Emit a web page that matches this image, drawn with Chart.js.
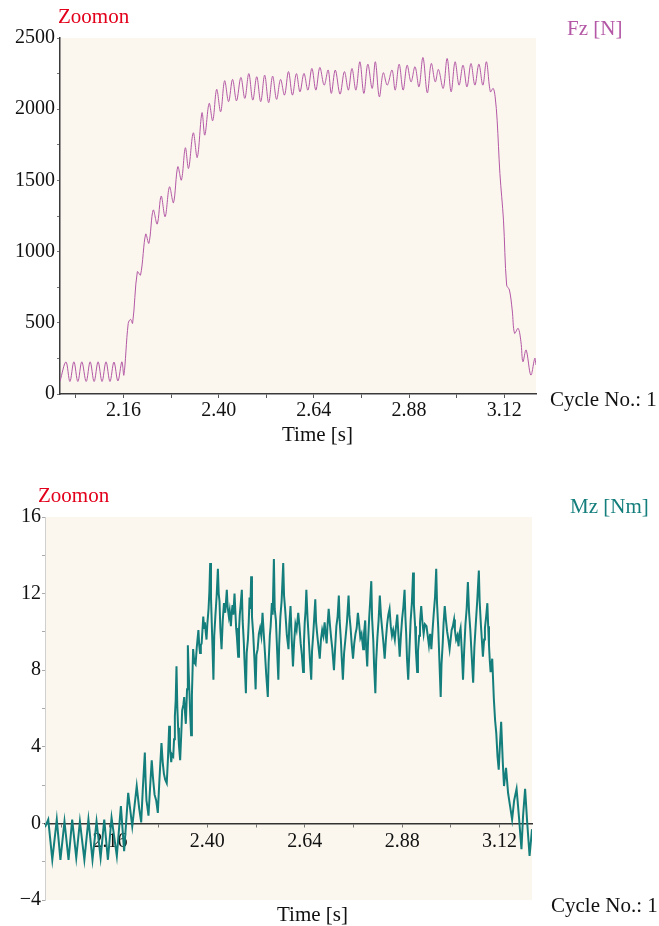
<!DOCTYPE html>
<html>
<head>
<meta charset="utf-8">
<script src="https://cdn.jsdelivr.net/npm/chart.js@4"></script>
<style>
  html, body { margin: 0; padding: 0; background: #ffffff; }
  #wrap { position: relative; width: 659px; height: 926px; overflow: hidden; }
  canvas { position: absolute; left: 0; }
  #c1 { top: 0; }
  #c2 { top: 460px; }
</style>
</head>
<body>
<div id="wrap">
  <canvas id="c1" width="659" height="460"></canvas>
  <canvas id="c2" width="659" height="466"></canvas>
</div>
<script>
// ---------- DATA ----------
const fzTime = [2.000,2.015,2.025,2.035,2.045,2.055,2.066,2.076,2.086,2.096,2.106,2.116,2.126,2.136,2.146,2.156,2.161,2.172,2.178,2.183,2.195,2.203,2.216,2.224,2.235,2.245,2.255,2.265,2.276,2.286,2.297,2.306,2.316,2.324,2.336,2.346,2.358,2.365,2.376,2.385,2.395,2.405,2.415,2.425,2.435,2.445,2.456,2.466,2.476,2.486,2.496,2.506,2.516,2.526,2.536,2.546,2.556,2.566,2.576,2.586,2.596,2.605,2.615,2.625,2.635,2.645,2.655,2.666,2.676,2.684,2.694,2.706,2.717,2.727,2.736,2.746,2.756,2.766,2.776,2.787,2.795,2.805,2.815,2.825,2.837,2.845,2.855,2.865,2.875,2.885,2.895,2.905,2.915,2.926,2.936,2.946,2.954,2.966,2.976,2.986,2.996,3.006,3.016,3.026,3.036,3.046,3.056,3.066,3.075,3.085,3.092,3.097,3.102,3.109,3.118,3.126,3.133,3.140,3.146,3.155,3.162,3.167,3.175,3.187,3.197,3.200];
const fzValue = [90,225,88,226,88,226,88,226,88,226,88,226,88,224,92,226,133,496,524,496,859,835,1123,1058,1292,1193,1390,1245,1455,1343,1596,1502,1729,1584,1834,1661,1975,1818,2041,1919,2139,1982,2200,2053,2209,2059,2223,2076,2250,2064,2228,2053,2239,2046,2232,2069,2209,2099,2264,2099,2250,2122,2251,2134,2286,2134,2293,2169,2275,2111,2275,2106,2264,2134,2286,2134,2333,2111,2316,2146,2333,2087,2256,2169,2275,2134,2316,2134,2309,2192,2298,2157,2363,2115,2321,2192,2279,2146,2356,2122,2333,2169,2309,2157,2321,2169,2316,2169,2333,2122,2146,2087,1923,1549,1221,765,730,590,426,461,367,227,309,133,251,204];

// Mz samples: [time s, moment Nm]
const mzSamples = [
[2.000,-0.2],[2.008,0.2],[2.018,-1.9],[2.029,0.2],[2.038,-1.9],[2.048,0.1],[2.058,-1.9],[2.067,0.2],[2.077,-1.8],[2.086,0.1],
[2.097,-1.9],[2.107,0.2],[2.117,-1.9],[2.127,0.1],[2.137,-1.8],[2.146,0.2],[2.155,-1.9],[2.164,0.3],[2.177,-1.7],[2.187,0.9],
[2.195,-1.45],[2.205,1.6],[2.215,-0.15],[2.226,1.95],[2.232,0.8],[2.237,0.05],[2.241,1.8],[2.246,3.7],[2.248,2.2],[2.250,1.2],
[2.252,0.9],[2.255,0.4],[2.259,1.9],[2.263,3.3],[2.266,2.4],[2.270,1.5],[2.274,1.2],[2.278,0.55],[2.282,2.3],[2.287,4.2],
[2.290,3.2],[2.293,2.6],[2.296,2.3],[2.300,2.1],[2.303,3.4],[2.306,5.1],[2.308,3.9],[2.311,3.2],[2.313,3.6],[2.316,3.5],
[2.318,4.4],[2.320,5.6],[2.322,6.4],[2.324,8.2],[2.326,6.1],[2.328,5.0],[2.330,4.1],[2.333,3.3],[2.336,4.8],[2.338,5.9],
[2.341,6.2],[2.343,6.6],[2.345,5.8],[2.347,5.2],[2.350,7.0],[2.352,9.3],[2.354,7.9],[2.356,6.8],[2.358,5.6],[2.360,4.6],
[2.362,6.7],[2.365,9.1],[2.368,8.4],[2.371,8.3],[2.374,9.2],[2.378,10.1],[2.380,9.3],[2.382,8.9],[2.384,9.3],[2.386,9.4],
[2.388,10.1],[2.390,10.8],[2.392,10.2],[2.394,10.5],[2.396,10.0],[2.398,9.6],[2.400,10.4],[2.403,11.2],[2.405,12.1],[2.407,13.6],
[2.409,11.8],[2.411,10.4],[2.413,9.0],[2.415,7.5],[2.417,9.8],[2.420,10.9],[2.423,11.9],[2.426,13.3],[2.428,12.0],[2.430,11.6],
[2.432,10.2],[2.435,9.1],[2.438,10.6],[2.441,11.5],[2.444,11.0],[2.448,12.2],[2.450,11.3],[2.453,10.8],[2.455,11.1],[2.458,10.3],
[2.460,11.0],[2.462,11.4],[2.464,10.9],[2.467,12.0],[2.469,11.1],[2.471,10.2],[2.473,9.7],[2.476,8.7],[2.478,10.1],[2.480,10.9],
[2.482,11.4],[2.485,12.2],[2.487,10.6],[2.490,9.4],[2.492,8.3],[2.495,6.8],[2.497,8.9],[2.500,9.6],[2.502,10.5],[2.504,11.8],
[2.506,11.2],[2.508,12.9],[2.510,10.8],[2.513,9.9],[2.516,8.6],[2.519,7.0],[2.521,8.8],[2.524,9.1],[2.527,9.9],[2.530,10.2],
[2.533,9.8],[2.536,11.0],[2.539,9.9],[2.542,8.9],[2.545,7.8],[2.549,6.6],[2.551,8.4],[2.554,9.8],[2.556,10.3],[2.559,11.5],
[2.561,10.9],[2.564,13.8],[2.566,11.2],[2.569,10.6],[2.572,9.0],[2.575,7.5],[2.577,9.3],[2.580,10.8],[2.583,11.6],[2.587,13.6],
[2.589,11.9],[2.592,11.1],[2.596,9.8],[2.600,9.1],[2.602,10.4],[2.605,11.35],[2.608,9.6],[2.611,8.2],[2.614,9.5],[2.617,10.4],
[2.620,10.1],[2.624,11.0],[2.627,10.3],[2.630,9.4],[2.633,8.8],[2.636,7.9],[2.638,9.4],[2.640,10.5],[2.642,11.1],[2.644,12.2],
[2.647,10.7],[2.650,9.6],[2.653,8.5],[2.656,7.5],[2.658,9.0],[2.661,9.9],[2.663,10.6],[2.666,11.7],[2.668,10.5],[2.671,9.8],
[2.674,9.2],[2.677,8.6],[2.680,9.6],[2.683,10.1],[2.686,9.8],[2.689,10.5],[2.691,10.0],[2.694,9.4],[2.696,10.3],[2.699,11.2],
[2.702,10.4],[2.705,9.7],[2.708,9.1],[2.712,8.0],[2.715,9.2],[2.718,10.3],[2.721,10.8],[2.724,11.9],[2.726,10.6],[2.729,9.6],
[2.731,8.7],[2.734,7.5],[2.737,8.9],[2.741,9.8],[2.744,10.5],[2.748,11.9],[2.750,10.9],[2.753,10.2],[2.756,9.3],[2.759,8.6],
[2.762,9.4],[2.765,9.9],[2.768,10.2],[2.771,11.0],[2.774,10.4],[2.777,9.7],[2.780,9.9],[2.784,9.1],[2.786,9.9],[2.789,10.6],
[2.791,9.3],[2.794,8.2],[2.796,9.5],[2.799,10.8],[2.801,11.5],[2.804,12.65],[2.806,10.7],[2.809,9.5],[2.811,8.2],[2.814,6.8],
[2.816,8.5],[2.819,9.7],[2.822,10.6],[2.825,11.9],[2.828,10.8],[2.831,10.1],[2.834,9.4],[2.837,8.6],[2.840,9.6],[2.843,10.4],
[2.846,10.9],[2.849,11.2],[2.852,10.3],[2.855,9.8],[2.858,10.1],[2.862,9.6],[2.865,10.3],[2.868,10.9],[2.871,9.8],[2.874,8.7],
[2.877,9.8],[2.880,10.7],[2.883,11.3],[2.886,12.2],[2.888,10.8],[2.890,9.9],[2.892,8.6],[2.895,7.5],[2.898,9.1],[2.901,10.6],
[2.904,11.5],[2.907,13.1],[2.909,11.4],[2.912,10.3],[2.914,9.0],[2.917,7.9],[2.919,9.0],[2.922,9.8],[2.924,10.5],[2.927,11.35],
[2.930,10.5],[2.933,9.9],[2.936,10.4],[2.940,10.3],[2.943,9.8],[2.946,9.3],[2.949,9.9],[2.952,9.1],[2.955,10.1],[2.958,11.0],
[2.961,11.8],[2.964,13.3],[2.966,11.5],[2.969,10.2],[2.972,8.4],[2.975,6.6],[2.977,8.3],[2.980,9.4],[2.982,10.4],[2.985,11.35],
[2.988,10.6],[2.991,10.0],[2.994,9.6],[2.997,9.1],[3.000,9.7],[3.002,10.1],[3.005,10.3],[3.008,10.65],[3.010,10.1],[3.013,9.6],
[3.016,9.8],[3.019,9.25],[3.021,9.9],[3.024,10.2],[3.027,9.0],[3.030,7.5],[3.033,9.1],[3.036,10.4],[3.039,11.2],[3.042,12.6],
[3.045,11.0],[3.048,10.1],[3.051,8.9],[3.055,7.35],[3.058,9.2],[3.062,10.6],[3.065,11.6],[3.069,13.2],[3.071,11.6],[3.074,10.4],
[3.077,9.4],[3.079,8.7],[3.082,9.6],[3.084,10.2],[3.087,10.8],[3.090,11.5],[3.092,10.3],[3.094,9.3],[3.096,8.5],[3.098,7.9],
[3.100,8.3],[3.102,8.6],[3.106,6.5],[3.109,5.4],[3.112,4.7],[3.115,3.5],[3.118,2.8],[3.121,4.1],[3.124,5.3],[3.128,3.2],
[3.131,1.95],[3.136,2.9],[3.141,1.6],[3.146,0.9],[3.151,0.2],[3.156,1.2],[3.162,1.8],[3.168,0.3],[3.174,-1.35],[3.178,0.4],
[3.183,1.8],[3.188,0.1],[3.194,-1.7],[3.200,-0.3]
];

const xMajorTicks = [2.16, 2.40, 2.64, 2.88, 3.12];
const xMinorTicks = [2.04, 2.28, 2.52, 2.76, 3.00];
const fzMajorTicks = [0, 500, 1000, 1500, 2000, 2500];
const fzMinorTicks = [250, 750, 1250, 1750, 2250];
const mzMajorTicks = [-4, 0, 4, 8, 12, 16];
const mzMinorTicks = [-2, 2, 6, 10, 14];

const labels = {
  zoom: 'Zoomon',
  fz: 'Fz [N]',
  mz: 'Mz [Nm]',
  cycle: 'Cycle No.: 1',
  time: 'Time [s]'
};

// ---------- STYLE ----------
const FONT = '"Liberation Serif", "Times New Roman", serif';
const PLOT_BG = '#FBF7EE';
const FZ_COLOR = '#B458A6';
const MZ_COLOR = '#147E7C';
const RED = '#E3001B';

function pairs(xs, ys) { return xs.map((x, i) => ({ x: x, y: ys[i] })); }
function fmtNum(v) { return v < 0 ? '\u2212' + Math.abs(v) : String(v); }

function bgPlugin() {
  return {
    id: 'bg',
    beforeDraw(chart) {
      const { ctx, chartArea: a } = chart;
      ctx.save();
      ctx.fillStyle = '#ffffff';
      ctx.fillRect(0, 0, chart.width, chart.height);
      ctx.fillStyle = PLOT_BG;
      ctx.fillRect(a.left, a.top, a.right - a.left, a.bottom - a.top);
      ctx.restore();
    }
  };
}

function textPlugin(items) {
  return {
    id: 'texts',
    afterDraw(chart) {
      const ctx = chart.ctx;
      ctx.save();
      ctx.textBaseline = 'alphabetic';
      ctx.textAlign = 'left';
      items.forEach(t => {
        ctx.font = t.size + 'px ' + FONT;
        ctx.fillStyle = t.color;
        ctx.fillText(t.text, t.x, t.y);
      });
      ctx.restore();
    }
  };
}

// ---------- CHART 1 : Fz ----------
new Chart(document.getElementById('c1'), {
  type: 'line',
  data: {
    datasets: [{
      data: pairs(fzTime, fzValue),
      borderColor: FZ_COLOR,
      borderWidth: 1,
      pointRadius: 0,
      tension: 0.35,
      fill: false
    }]
  },
  options: {
    responsive: false,
    animation: false,
    devicePixelRatio: 1,
    layout: { padding: { top: 38, right: 123, left: 0, bottom: 16 } },
    plugins: { legend: { display: false }, tooltip: { enabled: false }, title: { display: false } },
    scales: {
      x: {
        type: 'linear', min: 2.0, max: 3.2,
        afterBuildTicks: s => { s.ticks = xMinorTicks.concat(xMajorTicks).sort((a, b) => a - b).map(v => ({ value: v })); },
        afterFit: s => { s.height = 50; },
        border: { color: '#3a3a3a', width: 1.5 },
        grid: { display: true, drawOnChartArea: false, tickLength: 4, color: '#555' },
        ticks: {
          autoSkip: false, maxRotation: 0, padding: 1, color: '#111',
          font: { family: FONT, size: 20 },
          callback: v => xMajorTicks.some(m => Math.abs(m - v) < 1e-6) ? v.toFixed(2) : ''
        }
      },
      y: {
        type: 'linear', min: 0, max: 2500,
        afterBuildTicks: s => { s.ticks = fzMinorTicks.concat(fzMajorTicks).sort((a, b) => a - b).map(v => ({ value: v })); },
        afterFit: s => { s.width = 60; },
        border: { color: '#3a3a3a', width: 1.5 },
        grid: { display: true, drawOnChartArea: false, tickLength: 3, color: '#777' },
        ticks: {
          autoSkip: false, padding: 2, color: '#111',
          font: { family: FONT, size: 20 },
          callback: v => fzMajorTicks.includes(v) ? fmtNum(v) : ''
        }
      }
    }
  },
  plugins: [bgPlugin(), textPlugin([
    { text: labels.zoom, x: 58, y: 23, size: 21, color: RED },
    { text: labels.fz, x: 567, y: 35, size: 21, color: FZ_COLOR },
    { text: labels.cycle, x: 550, y: 406, size: 21, color: '#111' },
    { text: labels.time, x: 282, y: 441, size: 21, color: '#111' }
  ])]
});

// ---------- CHART 2 : Mz ----------
new Chart(document.getElementById('c2'), {
  type: 'line',
  data: {
    datasets: [{
      data: mzSamples.map(p => ({ x: p[0], y: p[1] })),
      borderColor: MZ_COLOR,
      borderWidth: 2,
      pointRadius: 0,
      tension: 0,
      fill: false
    }]
  },
  options: {
    responsive: false,
    animation: false,
    devicePixelRatio: 1,
    layout: { padding: { top: 57, right: 127, left: 0, bottom: 26 } },
    plugins: { legend: { display: false }, tooltip: { enabled: false }, title: { display: false } },
    scales: {
      x: {
        type: 'linear', min: 2.0, max: 3.2,
        position: { y: 0 },
        afterBuildTicks: s => { s.ticks = xMinorTicks.concat(xMajorTicks).sort((a, b) => a - b).map(v => ({ value: v })); },
        border: { color: '#333', width: 1.5 },
        grid: { display: true, drawOnChartArea: false, tickLength: 3, color: '#777' },
        ticks: {
          autoSkip: false, maxRotation: 0, padding: 3, color: '#111',
          font: { family: FONT, size: 20 },
          callback: v => xMajorTicks.some(m => Math.abs(m - v) < 1e-6) ? v.toFixed(2) : ''
        }
      },
      y: {
        type: 'linear', min: -4, max: 16,
        afterBuildTicks: s => { s.ticks = mzMinorTicks.concat(mzMajorTicks).sort((a, b) => a - b).map(v => ({ value: v })); },
        afterFit: s => { s.width = 45; },
        border: { color: '#cfcfcf', width: 1 },
        grid: { display: true, drawOnChartArea: false, tickLength: 3, color: '#aaa' },
        ticks: {
          autoSkip: false, padding: 1, color: '#111',
          font: { family: FONT, size: 20 },
          callback: v => mzMajorTicks.includes(v) ? fmtNum(v) : ''
        }
      }
    }
  },
  plugins: [bgPlugin(), textPlugin([
    { text: labels.zoom, x: 38, y: 42, size: 21, color: RED },
    { text: labels.mz, x: 570, y: 53, size: 21, color: MZ_COLOR },
    { text: labels.cycle, x: 551, y: 452, size: 21, color: '#111' },
    { text: labels.time, x: 277, y: 461, size: 21, color: '#111' }
  ])]
});
</script>
</body>
</html>
